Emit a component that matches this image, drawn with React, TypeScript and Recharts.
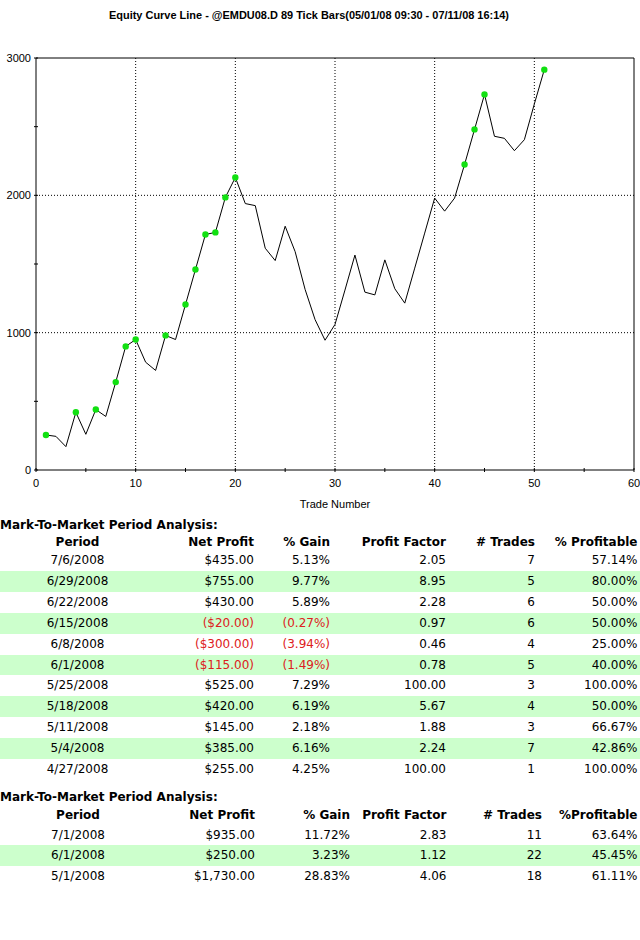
import React from 'react';
import { LineChart, Line, XAxis, YAxis, ReferenceLine } from 'recharts';

const chartTitle = 'Equity Curve Line - @EMDU08.D 89 Tick Bars(05/01/08 09:30 - 07/11/08 16:14)';
const xAxisTitle = 'Trade Number';

const tradeNumbers = [
  1, 2, 3, 4, 5, 6, 7, 8, 9, 10, 11, 12, 13, 14, 15, 16, 17, 18, 19, 20, 21, 22, 23, 24, 25,
  26, 27, 28, 29, 30, 31, 32, 33, 34, 35, 36, 37, 38, 39, 40, 41, 42, 43, 44, 45, 46, 47, 48, 49, 50, 51,
];
const equity = [
  255, 245, 170, 420, 260, 440, 390, 640, 900, 950, 785, 725, 980, 950, 1205, 1460, 1715, 1730, 1985, 2130,
  1940, 1925, 1615, 1525, 1775, 1590, 1315, 1095, 945, 1060, 1310, 1565, 1295, 1275, 1530, 1320, 1215, 1470,
  1725, 1980, 1885, 1980, 2225, 2480, 2735, 2430, 2415, 2325, 2405, 2665, 2915,
];
const newHighTrades = [1, 4, 6, 8, 9, 10, 13, 15, 16, 17, 18, 19, 20, 43, 44, 45, 51];

const xTicks = [0, 5, 10, 15, 20, 25, 30, 35, 40, 45, 50, 55, 60];
const xLabeledTicks = [0, 10, 20, 30, 40, 50, 60];
const yTicks = [0, 500, 1000, 1500, 2000, 2500, 3000];
const yLabeledTicks = [0, 1000, 2000, 3000];
const xGridValues = [10, 20, 30, 40, 50];
const yGridValues = [1000, 2000];
const xMax = 60;
const yMax = 3000;

const tableHeading = 'Mark-To-Market Period Analysis:';
const weekHeaders = ['Period', 'Net Profit', '% Gain', 'Profit Factor', '# Trades', '% Profitable'];
const weekPeriods = ['7/6/2008', '6/29/2008', '6/22/2008', '6/15/2008', '6/8/2008', '6/1/2008', '5/25/2008', '5/18/2008', '5/11/2008', '5/4/2008', '4/27/2008'];
const weekNetProfit = ['$435.00', '$755.00', '$430.00', '($20.00)', '($300.00)', '($115.00)', '$525.00', '$420.00', '$145.00', '$385.00', '$255.00'];
const weekGain = ['5.13%', '9.77%', '5.89%', '(0.27%)', '(3.94%)', '(1.49%)', '7.29%', '6.19%', '2.18%', '6.16%', '4.25%'];
const weekProfitFactor = ['2.05', '8.95', '2.28', '0.97', '0.46', '0.78', '100.00', '5.67', '1.88', '2.24', '100.00'];
const weekTrades = ['7', '5', '6', '6', '4', '5', '3', '4', '3', '7', '1'];
const weekProfitable = ['57.14%', '80.00%', '50.00%', '50.00%', '25.00%', '40.00%', '100.00%', '50.00%', '66.67%', '42.86%', '100.00%'];

const monthHeaders = ['Period', 'Net Profit', '% Gain', 'Profit Factor', '# Trades', '%Profitable'];
const monthPeriods = ['7/1/2008', '6/1/2008', '5/1/2008'];
const monthNetProfit = ['$935.00', '$250.00', '$1,730.00'];
const monthGain = ['11.72%', '3.23%', '28.83%'];
const monthProfitFactor = ['2.83', '1.12', '4.06'];
const monthTrades = ['11', '22', '18'];
const monthProfitable = ['63.64%', '45.45%', '61.11%'];

const chartData = tradeNumbers.map((t, i) => ({ trade: t, equity: equity[i] }));

const AXIS_FONT = '"Liberation Sans", Arial, sans-serif';
const TABLE_FONT = '"DejaVu Sans", Verdana, sans-serif';

const XTick = (props: any) => {
  const { x, y, payload } = props;
  const show = xLabeledTicks.includes(payload.value);
  return (
    <g>
      <line x1={x} x2={x} y1={y - 2} y2={y + 2} stroke="#000" strokeWidth={1} />
      {show && (
        <text x={x} y={y + 17} textAnchor="middle" fontSize={11} fontFamily={AXIS_FONT} fill="#000">
          {payload.value}
        </text>
      )}
    </g>
  );
};

const YTick = (props: any) => {
  const { x, y, payload } = props;
  const show = yLabeledTicks.includes(payload.value);
  return (
    <g>
      <line x1={x - 2} x2={x + 2} y1={y} y2={y} stroke="#000" strokeWidth={1} />
      {show && (
        <text x={x - 5} y={y + 4} textAnchor="end" fontSize={11} fontFamily={AXIS_FONT} fill="#000">
          {payload.value}
        </text>
      )}
    </g>
  );
};

const HighDot = (props: any) => {
  const { cx, cy, payload, index } = props;
  if (!newHighTrades.includes(payload.trade)) return <g key={`d${index}`} />;
  return <circle key={`d${index}`} cx={cx} cy={cy} r={3.2} fill="#11e011" stroke="none" />;
};

type Cols = { centers: number[]; rights: number[] };

const weekCols = { center: 77.5, rights: [254, 330, 446, 535, 637.5] };
const monthCols = { center: 78, rights: [255, 350, 446.5, 542, 637.5] };

function Row(props: { cells: string[]; top: number; height: number; bold?: boolean; green?: boolean; cols: { center: number; rights: number[] } }) {
  const { cells, top, height, bold, green, cols } = props;
  return (
    <div
      style={{
        position: 'absolute',
        left: 0,
        top,
        width: 640,
        height,
        background: green ? '#ccffcc' : 'transparent',
        fontFamily: TABLE_FONT,
        fontSize: 12,
        fontWeight: bold ? 'bold' : 'normal',
        lineHeight: `${height}px`,
        whiteSpace: 'nowrap',
      }}
    >
      <span style={{ position: 'absolute', left: cols.center - 60, width: 120, textAlign: 'center' }}>{cells[0]}</span>
      {cells.slice(1).map((c, i) => (
        <span
          key={i}
          style={{
            position: 'absolute',
            right: 640 - cols.rights[i],
            color: !bold && c.startsWith('(') ? '#dd2020' : '#000',
          }}
        >
          {c}
        </span>
      ))}
    </div>
  );
}

export default function App() {
  const weekRowPitch = 20.9;
  const monthRowPitch = 20.5;
  return (
    <div style={{ position: 'absolute', left: 0, top: 0, width: 640, height: 940, background: '#fff' }}>
      <svg width={640} height={30} style={{ position: 'absolute', left: 0, top: 0 }}>
        <text
          x={309}
          y={19}
          textAnchor="middle"
          fontSize={11}
          fontWeight="bold"
          fontFamily={AXIS_FONT}
          textLength={400}
          lengthAdjust="spacingAndGlyphs"
          fill="#000"
        >
          {chartTitle}
        </text>
      </svg>
      <div style={{ position: 'absolute', left: 0, top: 0 }}>
        <LineChart width={640} height={516} data={chartData} margin={{ top: 58, right: 6, left: 0, bottom: 0 }}>
          <XAxis
            dataKey="trade"
            type="number"
            domain={[0, xMax]}
            ticks={xTicks}
            interval={0}
            tickSize={0}
            tickMargin={0}
            tickLine={false}
            tick={<XTick />}
            axisLine={{ stroke: '#000', strokeWidth: 1 }}
            height={46}
            allowDataOverflow
            label={{ value: xAxisTitle, position: 'insideBottom', offset: 8, fontSize: 11, fontFamily: AXIS_FONT, fill: '#000' }}
          />
          <YAxis
            type="number"
            domain={[0, yMax]}
            ticks={yTicks}
            interval={0}
            tickSize={0}
            tickMargin={0}
            tickLine={false}
            tick={<YTick />}
            axisLine={{ stroke: '#000', strokeWidth: 1 }}
            width={36}
            allowDataOverflow
          />
          {xGridValues.map((v) => (
            <ReferenceLine key={`gx${v}`} x={v} stroke="#000" strokeDasharray="1 2" strokeWidth={1} />
          ))}
          {yGridValues.map((v) => (
            <ReferenceLine key={`gy${v}`} y={v} stroke="#000" strokeDasharray="1 2" strokeWidth={1} />
          ))}
          <ReferenceLine y={yMax} stroke="#000" strokeWidth={1} />
          <ReferenceLine x={xMax} stroke="#000" strokeWidth={1} />
          <Line
            type="linear"
            dataKey="equity"
            stroke="#000"
            strokeWidth={1}
            dot={(p: any) => <HighDot {...p} key={`dot${p.index}`} />}
            activeDot={false}
            isAnimationActive={false}
          />
        </LineChart>
      </div>

      <div style={{ position: 'absolute', left: 0, top: 517, fontFamily: TABLE_FONT, fontSize: 12, fontWeight: 'bold', lineHeight: '16px', whiteSpace: 'nowrap' }}>
        {tableHeading}
      </div>
      <Row cells={weekHeaders} top={542 - 10} height={20} bold cols={weekCols} />
      {weekPeriods.map((p, i) => (
        <Row
          key={p}
          cells={[p, weekNetProfit[i], weekGain[i], weekProfitFactor[i], weekTrades[i], weekProfitable[i]]}
          top={560.5 - weekRowPitch / 2 + i * weekRowPitch}
          height={weekRowPitch}
          green={i % 2 === 1}
          cols={weekCols}
        />
      ))}

      <div style={{ position: 'absolute', left: 0, top: 789, fontFamily: TABLE_FONT, fontSize: 12, fontWeight: 'bold', lineHeight: '16px', whiteSpace: 'nowrap' }}>
        {tableHeading}
      </div>
      <Row cells={monthHeaders} top={815 - 10} height={20} bold cols={monthCols} />
      {monthPeriods.map((p, i) => (
        <Row
          key={p}
          cells={[p, monthNetProfit[i], monthGain[i], monthProfitFactor[i], monthTrades[i], monthProfitable[i]]}
          top={835 - monthRowPitch / 2 + i * monthRowPitch}
          height={monthRowPitch}
          green={i % 2 === 1}
          cols={monthCols}
        />
      ))}
    </div>
  );
}
